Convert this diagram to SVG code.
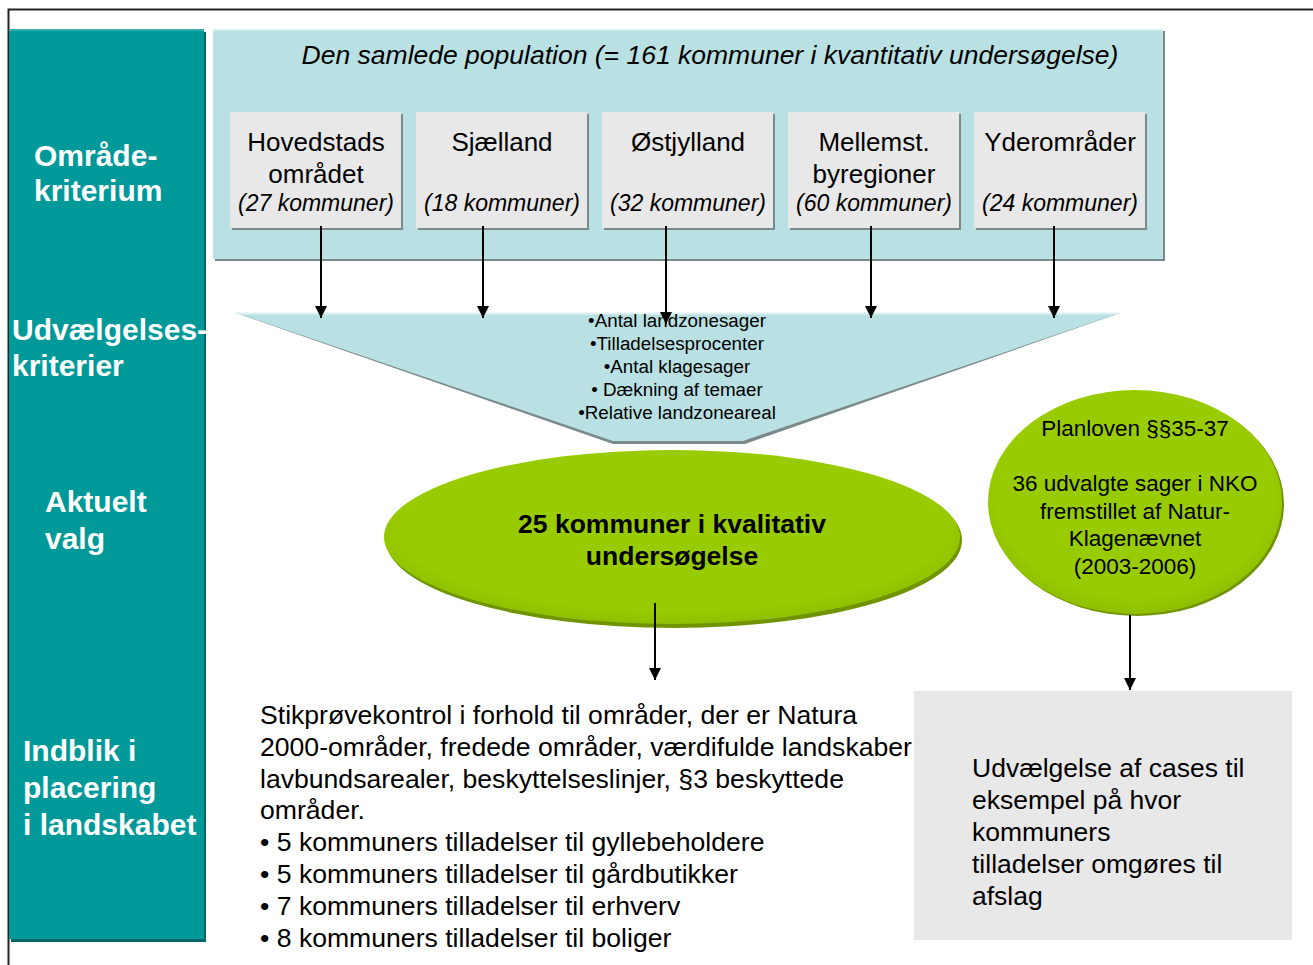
<svg xmlns="http://www.w3.org/2000/svg" width="1313" height="965" viewBox="0 0 1313 965">
<defs>
<marker id="ah" markerWidth="12" markerHeight="12" refX="12" refY="6" orient="auto" markerUnits="userSpaceOnUse" viewBox="0 0 12 12">
<path d="M0,0 L12,6 L0,12 Z" fill="#000"/>
</marker>
<radialGradient id="green" cx="0.5" cy="0.45" r="0.55">
<stop offset="0" stop-color="#99cc00"/>
<stop offset="0.85" stop-color="#99cc00"/>
<stop offset="1" stop-color="#8fbf00"/>
</radialGradient>
</defs>
<style>
.side{font-family:"Liberation Sans",Arial,sans-serif;font-weight:bold;font-size:30px;fill:#fff}
.t{font-family:"Liberation Sans",Arial,sans-serif;fill:#000}
.reg{font-size:26px;text-anchor:middle}
.it{font-size:23px;font-style:italic;text-anchor:middle}
.box{fill:#e8e8e8}
.sh{fill:#7a8a8a}
.conn line{stroke:#000;stroke-width:2;marker-end:url(#ah)}
</style>
<rect width="1313" height="965" fill="#fff"/>
<path d="M8.5,965 L8.5,9.5 L1313,9.5" fill="none" stroke="#222" stroke-width="2"/>

<g id="sidebar">
<rect x="11" y="32" width="195" height="910" fill="#006666"/>
<rect x="9" y="29" width="195" height="910" fill="#009999"/>
<rect x="9" y="29" width="195" height="2" fill="#33adad"/>
<text class="side" x="34" y="166">Område-</text>
<text class="side" x="34" y="201">kriterium</text>
<text class="side" x="12" y="340">Udvælgelses-</text>
<text class="side" x="12" y="376">kriterier</text>
<text class="side" x="45" y="512">Aktuelt</text>
<text class="side" x="45" y="549">valg</text>
<text class="side" x="23" y="761">Indblik i</text>
<text class="side" x="23" y="798">placering</text>
<text class="side" x="23" y="835">i landskabet</text>
</g>

<g id="population">
<rect x="215" y="31" width="950" height="230" fill="#7a8a8a"/>
<rect x="213" y="29" width="950" height="230" fill="#b9e0e3"/>
<rect x="213" y="29" width="950" height="2" fill="#d5eef0"/>
<text class="t" x="710" y="64" font-size="26.5" font-style="italic" text-anchor="middle">Den samlede population (= 161 kommuner i kvantitativ undersøgelse)</text>
</g>

<g id="hovedstad">
<rect class="sh" x="232" y="114" width="171" height="116"/>
<rect class="box" x="230" y="112" width="171" height="116"/>
<text class="t reg" x="316" y="151">Hovedstads</text>
<text class="t reg" x="316" y="183">området</text>
<text class="t it" x="316" y="211">(27 kommuner)</text>
</g>
<g id="sjaelland">
<rect class="sh" x="418" y="114" width="171" height="116"/>
<rect class="box" x="416" y="112" width="171" height="116"/>
<text class="t reg" x="502" y="151">Sjælland</text>
<text class="t it" x="502" y="211">(18 kommuner)</text>
</g>
<g id="ostjylland">
<rect class="sh" x="604" y="114" width="171" height="116"/>
<rect class="box" x="602" y="112" width="171" height="116"/>
<text class="t reg" x="688" y="151">Østjylland</text>
<text class="t it" x="688" y="211">(32 kommuner)</text>
</g>
<g id="mellemst">
<rect class="sh" x="790" y="114" width="171" height="116"/>
<rect class="box" x="788" y="112" width="171" height="116"/>
<text class="t reg" x="874" y="151">Mellemst.</text>
<text class="t reg" x="874" y="183">byregioner</text>
<text class="t it" x="874" y="211">(60 kommuner)</text>
</g>
<g id="yderomraader">
<rect class="sh" x="976" y="114" width="171" height="116"/>
<rect class="box" x="974" y="112" width="171" height="116"/>
<text class="t reg" x="1060" y="151">Yderområder</text>
<text class="t it" x="1060" y="211">(24 kommuner)</text>
</g>

<g id="funnel">
<polygon points="236,313 1120,313 745,444 613,444" fill="#7a8a8a"/>
<polygon points="236,313 1120,313 743,441 613,441" fill="#b9e0e3"/>
<line x1="236" y1="313.5" x2="1120" y2="313.5" stroke="#dff0f1" stroke-width="2"/>
<g class="t" font-size="18.8" text-anchor="middle">
<text x="677" y="327">•Antal landzonesager</text>
<text x="677" y="350">•Tilladelsesprocenter</text>
<text x="677" y="373">•Antal klagesager</text>
<text x="677" y="396">• Dækning af temaer</text>
<text x="677" y="419">•Relative landzoneareal</text>
</g>
</g>

<g id="kvalitativ">
<ellipse cx="674" cy="540" rx="288" ry="88" fill="#6f9400"/>
<ellipse cx="672" cy="537" rx="288" ry="87" fill="url(#green)"/>
<text class="t" x="672" y="533" font-size="26.5" font-weight="bold" text-anchor="middle">25 kommuner i kvalitativ</text>
<text class="t" x="672" y="565" font-size="26.5" font-weight="bold" text-anchor="middle">undersøgelse</text>
</g>

<g id="planloven">
<ellipse cx="1137" cy="504" rx="147" ry="112" fill="#6f9400"/>
<ellipse cx="1135" cy="502" rx="147" ry="112" fill="url(#green)"/>
<g class="t" font-size="22.5" text-anchor="middle">
<text x="1135" y="436">Planloven §§35-37</text>
<text x="1135" y="491">36 udvalgte sager i NKO</text>
<text x="1135" y="519">fremstillet af Natur-</text>
<text x="1135" y="546">Klagenævnet</text>
<text x="1135" y="574">(2003-2006)</text>
</g>
</g>

<g id="stikproeve">
<g class="t" font-size="26.6">
<text x="260" y="724">Stikprøvekontrol i forhold til områder, der er Natura</text>
<text x="260" y="756">2000-områder, fredede områder, værdifulde landskaber</text>
<text x="260" y="788">lavbundsarealer, beskyttelseslinjer, §3 beskyttede</text>
<text x="260" y="819">områder.</text>
<text x="260" y="851">• 5 kommuners tilladelser til gyllebeholdere</text>
<text x="260" y="883">• 5 kommuners tilladelser til gårdbutikker</text>
<text x="260" y="915">• 7 kommuners tilladelser til erhverv</text>
<text x="260" y="947">• 8 kommuners tilladelser til boliger</text>
</g>
</g>

<g id="udvaelgelse">
<rect class="box" x="914" y="691" width="378" height="249"/>
<g class="t" font-size="26.5">
<text x="972" y="777">Udvælgelse af cases til</text>
<text x="972" y="809">eksempel på hvor</text>
<text x="972" y="841">kommuners</text>
<text x="972" y="873">tilladelser omgøres til</text>
<text x="972" y="905">afslag</text>
</g>
</g>

<g id="connectors" class="conn">
<line x1="321" y1="226" x2="321" y2="318"/>
<line x1="483" y1="226" x2="483" y2="318"/>
<line x1="666" y1="226" x2="666" y2="324"/>
<line x1="871" y1="226" x2="871" y2="318"/>
<line x1="1054" y1="226" x2="1054" y2="318"/>
<line x1="655" y1="603" x2="655" y2="680"/>
<line x1="1130" y1="615" x2="1130" y2="690"/>
</g>
</svg>
